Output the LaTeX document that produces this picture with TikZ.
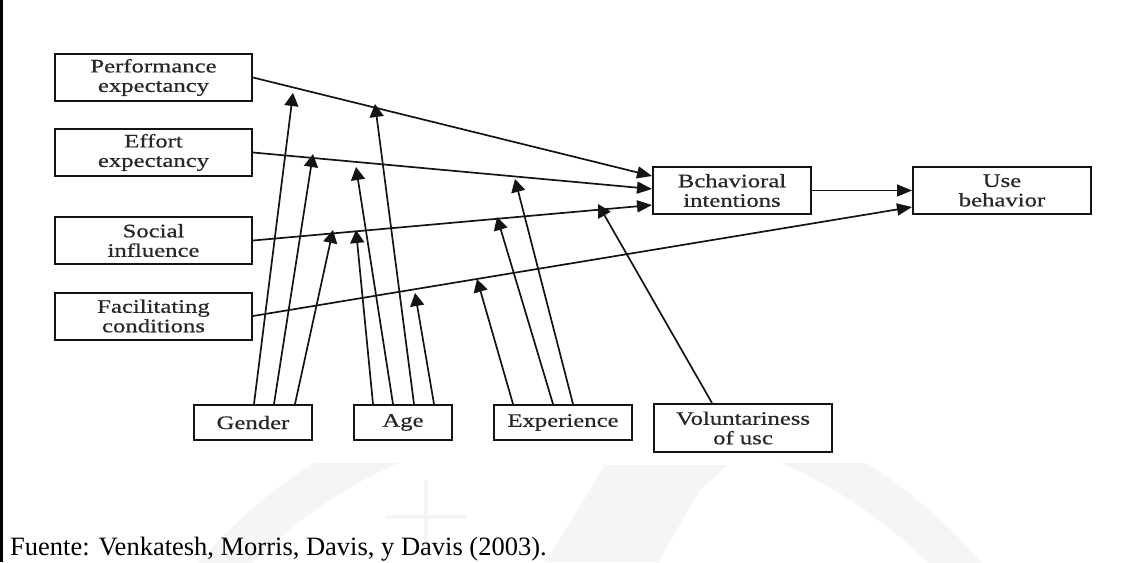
\documentclass[tikz,border=0pt]{standalone}
\usepackage{fontspec}
\setmainfont{Liberation Serif}
\newfontfamily\boxfont[FakeStretch=1.3,FakeBold=0.7]{Liberation Serif}
\usetikzlibrary{arrows.meta,calc}

\definecolor{ink}{RGB}{20,20,20}
\definecolor{textgray}{RGB}{40,40,40}
\definecolor{wmark}{RGB}{245,245,245}

\begin{document}
\begin{tikzpicture}[x=1pt,y=-1pt,
  box/.style={draw=ink, line width=2pt, fill=white, inner sep=0pt, align=center,
    font=\boxfont\fontsize{19}{19.5}\selectfont, text=textgray},
  sidebox/.style={box, minimum width=197, minimum height=47},
  modbox/.style={box, minimum height=35},
  link/.style={draw=ink, line width=1.7pt, -{Triangle[length=15pt,width=12pt]}},
  mod/.style={draw=ink, line width=1.7pt, -{Triangle[length=13pt,width=14pt]}},
]
\useasboundingbox (0,0) rectangle (1129,562);

% faint seal in the background of the lower band
\begin{scope}
  \clip (0,463) rectangle (1129,562);
  \draw[wmark, line width=40pt] (590,900) circle (497);
  \fill[wmark] (604,465) -- (728,465) -- (700,490) -- (658,562) -- (545,562) -- (590,490) -- cycle;
  \draw[wmark, line width=4pt] (426,480) -- (426,555) (385,517) -- (467,517);
\end{scope}

% page margin rule
\draw[black, line width=2.5pt] (1.25,0) -- (1.25,562);

% determinants
\node[sidebox] (pe) at (153.5,77.5) {Performance\\expectancy};
\node[sidebox] (ee) at (153.5,152.5) {Effort\\expectancy};
\node[sidebox] (si) at (153.5,240.5) {Social\\influence};
\node[sidebox] (fc) at (153.5,316) {Facilitating\\conditions};

% outcomes
\node[box, minimum width=158, minimum height=47] (bi) at (732,190.5) {Bchavioral\\intentions};
\node[box, minimum width=178, minimum height=47] (ub) at (1002,190.5) {Use\\behavior};

% moderators
\node[modbox, minimum width=118] (gen) at (253,422.5) {Gender};
\node[modbox, minimum width=98] (age) at (403,422.5) {Age};
\node[modbox, minimum width=138] (exp) at (563,422.5) {Experience};
\node[box, minimum width=178, minimum height=48] (vol) at (743,428) {Voluntariness\\of usc};

% main paths
\draw[link] (pe.east) -- ($(bi.west)+(0,-14.5)$);
\draw[link] (ee.east) -- ($(bi.west)+(0,-1.5)$);
\draw[link] (si.east) -- ($(bi.west)+(0,14.5)$);
\draw[link] (fc.east) -- ($(ub.west)+(0,16.5)$);
\draw[link] (bi.east) -- (ub.west);

% points where the moderators meet the paths
\coordinate (pe-g) at (293,93);
\coordinate (pe-a) at (375,104);
\coordinate (ee-g) at (313,154);
\coordinate (ee-a) at (356,167);
\coordinate (ee-e) at (515,179);
\coordinate (si-g) at (333,230);
\coordinate (si-a) at (356,230);
\coordinate (si-e) at (497,217);
\coordinate (si-v) at (598,204);
\coordinate (fc-a) at (415,293);
\coordinate (fc-e) at (477,279);

% gender
\draw[mod] ($(gen.north)+(1,0)$) -- (pe-g);
\draw[mod] ($(gen.north)+(21,0)$) -- (ee-g);
\draw[mod] ($(gen.north)+(42,0)$) -- (si-g);
% age
\draw[mod] ($(age.north)+(-30,0)$) -- (si-a);
\draw[mod] ($(age.north)+(-10,0)$) -- (ee-a);
\draw[mod] ($(age.north)+(11,0)$) -- (pe-a);
\draw[mod] ($(age.north)+(31,0)$) -- (fc-a);
% experience
\draw[mod] ($(exp.north)+(-50,0)$) -- (fc-e);
\draw[mod] ($(exp.north)+(-10,0)$) -- (si-e);
\draw[mod] ($(exp.north)+(10,0)$) -- (ee-e);
% voluntariness
\draw[mod] ($(vol.north)+(-31,0)$) -- (si-v);

% source line
\node[anchor=base west, inner sep=0pt, font=\fontsize{26.5}{30}\selectfont] (src) at (10,555)
  {Fuente: Venkatesh, Morris, Davis, y Davis (2003).};
\end{tikzpicture}
\end{document}
